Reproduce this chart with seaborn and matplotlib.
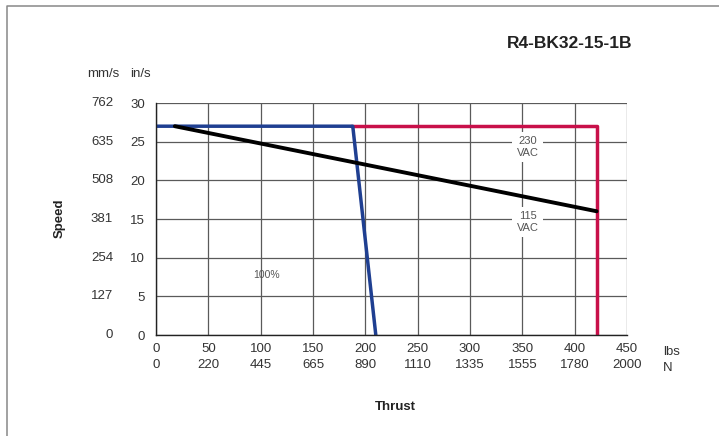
import numpy as np
import pandas as pd
import matplotlib
matplotlib.use("Agg")
import matplotlib.pyplot as plt
import seaborn as sns
from matplotlib.lines import Line2D

# data
lbs_ticks = [0, 50, 100, 150, 200, 250, 300, 350, 400, 450]
n_labels = ["0", "220", "445", "665", "890", "1110", "1335", "1555", "1780", "2000"]
ins_ticks = [0, 5, 10, 15, 20, 25, 30]
mms_labels = ["0", "127", "254", "381", "508", "635", "762"]

blue_thrust = [0, 188, 210]
blue_speed = [27, 27, 0]
red_thrust = [186, 421, 421]
red_speed = [27, 27, 0]
black_thrust = [18, 421]
black_speed = [27, 16]

sns.set_style("white")
plt.rcParams['font.family'] = ['Liberation Sans', 'DejaVu Sans']

fig = plt.figure(figsize=(7.19, 4.36), dpi=100)
ax = fig.add_axes([156 / 719, 1 - 335 / 436, 471 / 719, 232 / 436])

ax.set_xlim(0, 450)
ax.set_ylim(0, 30)
ax.set_xticks(lbs_ticks)
ax.set_yticks(ins_ticks)
ax.grid(True, color='#5a5a5a', linewidth=0.9)
ax.set_axisbelow(True)
for s in ['top', 'right']:
    ax.spines[s].set_visible(False)
for s in ['left', 'bottom']:
    ax.spines[s].set_color('#222222')
    ax.spines[s].set_linewidth(1.0)
ax.tick_params(length=0, labelsize=9.5, colors='#333333')
ax.set_xticklabels([f"{a}\n{b}" for a, b in zip(lbs_ticks, n_labels)], linespacing=1.45)
ax.tick_params(axis='x', pad=6)
ax.tick_params(axis='y', pad=8)

# mm/s column
for v, lab in zip(ins_ticks, mms_labels):
    ax.text(-0.091, v, lab, transform=ax.get_yaxis_transform(), ha='right', va='center',
            fontsize=9.5, color='#333333')

sns.lineplot(x=red_thrust, y=red_speed, ax=ax, color='#c8104a', linewidth=2.5,
             sort=False, estimator=None)
sns.lineplot(x=blue_thrust, y=blue_speed, ax=ax, color='#1f3f91', linewidth=2.5,
             sort=False, estimator=None)
sns.lineplot(x=black_thrust, y=black_speed, ax=ax, color='black', linewidth=2.8,
             sort=False, estimator=None)

box = dict(facecolor='white', edgecolor='none', pad=3)
ax.text(355, 24.3, "230\nVAC", ha='center', va='center', fontsize=8, color='#555555',
        bbox=box, linespacing=1.2)
ax.text(355, 14.6, "115\nVAC", ha='center', va='center', fontsize=8, color='#555555',
        bbox=box, linespacing=1.2)
ax.text(106, 7.8, "100%", ha='center', va='center', fontsize=7.5, color='#555555')

fig.text(103 / 719, 1 - 74 / 436, "mm/s", ha='center', va='center', fontsize=9.5, color='#333333')
fig.text(140 / 719, 1 - 74 / 436, "in/s", ha='center', va='center', fontsize=9.5, color='#333333')
fig.text(663 / 719, 1 - 352 / 436, "lbs", ha='left', va='center', fontsize=9.5, color='#333333')
fig.text(663 / 719, 1 - 368 / 436, "N", ha='left', va='center', fontsize=9.5, color='#333333')
fig.text(60 / 719, 1 - 218 / 436, "Speed", rotation=90, ha='center', va='center',
         fontsize=9.5, fontweight='bold', color='#222222')
fig.text(395 / 719, 1 - 407 / 436, "Thrust", ha='center', va='center',
         fontsize=9.5, fontweight='bold', color='#222222')
fig.text(570 / 719, 1 - 43 / 436, "R4-BK32-15-1B", ha='center', va='center',
         fontsize=12.5, fontweight='bold', color='#222222')

# outer frame (top and left only)
fig.add_artist(Line2D([6.5 / 719, 6.5 / 719, 1], [0, 1 - 6.5 / 436, 1 - 6.5 / 436],
                      transform=fig.transFigure, color='#888888', linewidth=1.1))

fig.savefig("out.png", dpi=100)
